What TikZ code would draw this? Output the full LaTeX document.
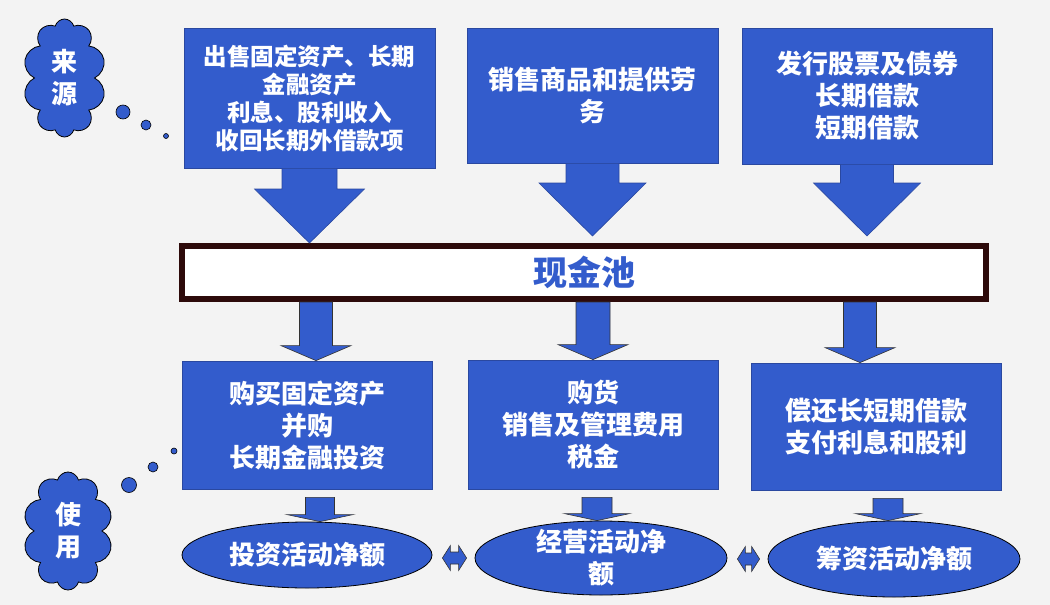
\documentclass[tikz,border=0pt]{standalone}
\usepackage{fontspec}
\setmainfont{Noto Sans CJK SC}
\usetikzlibrary{calc,shapes.geometric,shapes.symbols}

\definecolor{boxblue}{RGB}{51,92,204}
\definecolor{edgeblue}{RGB}{42,72,160}
\definecolor{poolbrown}{RGB}{45,10,10}
\definecolor{bggray}{RGB}{243,243,243}

% block arrow pointing down: style, start, tip, half shaft, half head, head length
\newcommand{\blockarrow}[6]{%
    \draw[#1] let \p1=(#2), \p2=(#3) in
        ({\x2-#4},\y1) -- ({\x2+#4},\y1) -- ({\x2+#4},{\y2+#6}) -- ({\x2+#5},{\y2+#6})
        -- (\x2,\y2) -- ({\x2-#5},{\y2+#6}) -- ({\x2-#4},{\y2+#6}) -- cycle;}

% small double arrow between two ovals
\newcommand{\dblarrow}[2]{%
    \draw[midarrow] let \p1=(#1.east), \p2=(#2.west) in
        ({\x1+10pt},\y2) -- ({\x1+18pt},{\y2+12.5pt}) -- ({\x1+18pt},{\y2+6pt})
        -- ({\x2-16pt},{\y2+6pt}) -- ({\x2-16pt},{\y2+12.5pt}) -- ({\x2-8pt},\y2)
        -- ({\x2-16pt},{\y2-12.5pt}) -- ({\x2-16pt},{\y2-6pt}) -- ({\x1+18pt},{\y2-6pt})
        -- ({\x1+18pt},{\y2-12.5pt}) -- cycle;}

\begin{document}
\begin{tikzpicture}[x=1pt, y=-1pt,
    txt/.style={text=white, align=center, inner sep=0pt, font=\bfseries\fontsize{26}{32}\selectfont},
    box/.style={txt, draw=edgeblue, line width=0.8pt, fill=boxblue},
    oval/.style={txt, ellipse, draw=black, line width=0.8pt, fill=boxblue},
    puff/.style={txt, cloud, cloud puffs=10, cloud ignores aspect, draw=black, line width=0.8pt, fill=boxblue},
    bubble/.style={circle, draw=black, line width=0.6pt, fill=boxblue, inner sep=0pt},
    toparrow/.style={draw=edgeblue, line width=0.6pt, fill=boxblue},
    midarrow/.style={draw=black!80, line width=0.6pt, fill=boxblue}]

    % background
    \fill[bggray] (0,0) rectangle (1050,605);
    \useasboundingbox (0,0) rectangle (1050,605);

    % sources
    \node[box, minimum width=251pt, minimum height=140pt, font=\bfseries\fontsize{23.5}{28}\selectfont] (s1) at (309.5,98) {出售固定资产、长期\\金融资产\\利息、股利收入\\收回长期外借款项};
    \node[box, minimum width=251pt, minimum height=135pt] (s2) at (592.5,95.5) {销售商品和提供劳\\务};
    \node[box, minimum width=250pt, minimum height=136pt] (s3) at (867,96) {发行股票及债券\\长期借款\\短期借款};

    % cash pool
    \node[draw=poolbrown, line width=6pt, fill=white, minimum width=804pt, minimum height=53pt,
        text=boxblue, font=\bfseries\fontsize{34}{40}\selectfont] (pool) at (584,272.5) {现金池};

    % uses
    \node[box, minimum width=250pt, minimum height=128pt] (u1) at (307,425) {购买固定资产\\并购\\长期金融投资};
    \node[box, minimum width=250pt, minimum height=129pt] (u2) at (593,424.5) {购货\\销售及管理费用\\税金};
    \node[box, minimum width=250pt, minimum height=127pt] (u3) at (876,426.5) {偿还长短期借款\\支付利息和股利};

    % net amounts
    \node[oval, minimum width=250pt, minimum height=66pt] (n1) at (307,555) {投资活动净额};
    \node[oval, minimum width=252pt, minimum height=74pt, inner ysep=-14pt] (n2) at (601,558) {经营活动净\\额};
    \node[oval, minimum width=252pt, minimum height=76pt] (n3) at (894,559) {筹资活动净额};

    % clouds with thought bubbles
    \node[puff, minimum width=83pt, minimum height=118pt] (src) at (64.5,78) {来\\源};
    \node[bubble, minimum size=14pt] (srca) at (123,112) {};
    \node[bubble, minimum size=10pt] (srcb) at (146,125) {};
    \node[bubble, minimum size=5pt] (srcc) at (166,136) {};

    \node[puff, minimum width=90pt, minimum height=118pt] (use) at (68,531) {使\\用};
    \node[bubble, minimum size=15pt] (usea) at (129,485) {};
    \node[bubble, minimum size=10pt] (useb) at (153,467) {};
    \node[bubble, minimum size=6pt] (usec) at (174,451) {};

    % arrows into the pool
    \blockarrow{toparrow}{s1.south}{s1.south |- pool.north}{27.5pt}{55pt}{54pt}
    \blockarrow{toparrow}{s2.south}{$(s2.south |- pool.north)+(0,-7)$}{26.5pt}{53.5pt}{53pt}
    \blockarrow{toparrow}{s3.south}{$(s3.south |- pool.north)+(0,-7)$}{26.5pt}{53.5pt}{53pt}

    % arrows out of the pool
    \blockarrow{midarrow}{pool.south}{$(u1.north)+(9,0)$}{16.5pt}{35pt}{15pt}
    \blockarrow{midarrow}{pool.south}{u2.north}{17pt}{35pt}{15pt}
    \blockarrow{midarrow}{pool.south}{$(u3.north)+(-16,0)$}{16.5pt}{35pt}{15pt}

    \blockarrow{midarrow}{$(u1.south)+(0,8)$}{$(n1.north)+(13,0)$}{14.5pt}{33pt}{7pt}
    \blockarrow{midarrow}{$(u2.south)+(0,8)$}{$(n2.north)+(-4,0)$}{15pt}{32.5pt}{7pt}
    \blockarrow{midarrow}{$(u3.south)+(0,8)$}{$(n3.north)+(-6,0)$}{15pt}{32.5pt}{7pt}

    \dblarrow{n1}{n2}
    \dblarrow{n2}{n3}
\end{tikzpicture}
\end{document}
